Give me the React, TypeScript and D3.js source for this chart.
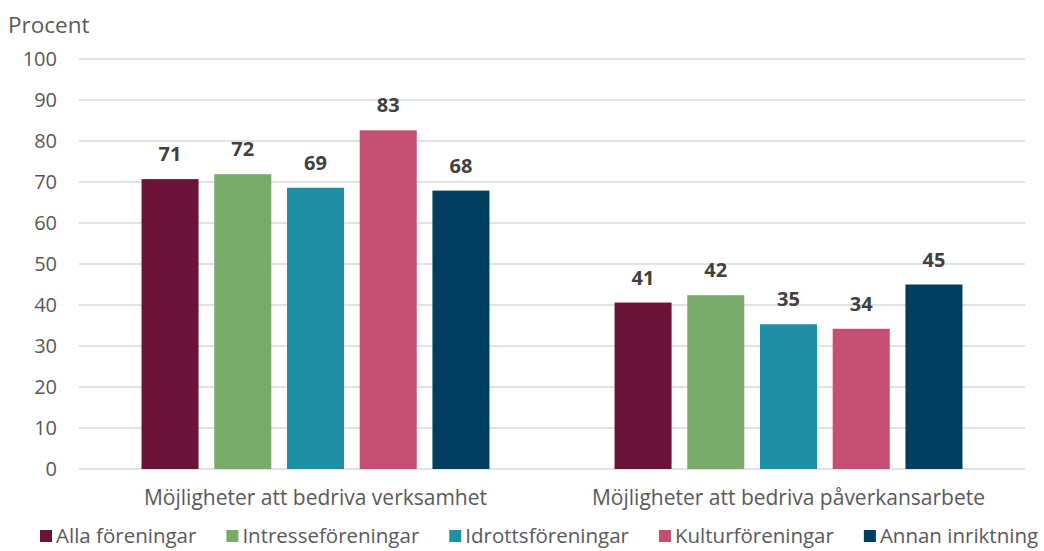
import React, { useEffect, useRef } from "react";
import * as d3 from "d3";

const categories = ["Möjligheter att bedriva verksamhet", "Möjligheter att bedriva påverkansarbete"];
const seriesNames = ["Alla föreningar", "Intresseföreningar", "Idrottsföreningar", "Kulturföreningar", "Annan inriktning"];
const seriesColors = ["#6b1438", "#79aa6a", "#1f8fa6", "#c54e73", "#013f61"];
const valuesVerksamhet = [70.7, 71.9, 68.6, 82.6, 67.9];
const valuesPaverkan = [40.6, 42.4, 35.3, 34.2, 45.0];
const seriesLabels = [
  ["71", "72", "69", "83", "68"],
  ["41", "42", "35", "34", "45"],
];
const yTicks = [0, 10, 20, 30, 40, 50, 60, 70, 80, 90, 100];
const yAxisTitle = "Procent";

const W = 1044;
const H = 551;
const FONT = "'Open Sans', sans-serif";

export default function App() {
  const ref = useRef<SVGSVGElement | null>(null);

  useEffect(() => {
    const svg = d3.select(ref.current);
    svg.selectAll("*").remove();

    const left = 79, right = 1025, top = 59, bottom = 469;
    const y = d3.scaleLinear().domain([0, 100]).range([bottom, top]);
    const x0 = d3.scaleBand<string>().domain(categories).range([left, right]).paddingInner(0).paddingOuter(0);
    const x1 = d3.scaleBand<string>().domain(seriesNames).range([0, x0.bandwidth()]).paddingInner(0.216).paddingOuter(0.86);

    const data = [valuesVerksamhet, valuesPaverkan];

    // grid
    svg.append("g").selectAll("line").data(yTicks).join("line")
      .attr("x1", left).attr("x2", right)
      .attr("y1", d => y(d)).attr("y2", d => y(d))
      .attr("stroke", "#d9d9d9").attr("stroke-width", 1.3);

    // y tick labels
    svg.append("g").selectAll("text").data(yTicks).join("text")
      .attr("x", 57).attr("y", d => y(d)).attr("dy", "0.36em")
      .attr("text-anchor", "end")
      .attr("font-family", FONT).attr("font-size", 20)
      .attr("fill", "#595959").text(d => String(d));

    svg.append("text").attr("x", 8).attr("y", 33)
      .attr("font-family", FONT).attr("font-size", 22.5)
      .attr("fill", "#595959").text(yAxisTitle);

    // bars
    categories.forEach((c, ci) => {
      const g = svg.append("g").attr("transform", `translate(${x0(c)},0)`);
      g.selectAll("rect").data(data[ci]).join("rect")
        .attr("x", (_, i) => x1(seriesNames[i])!)
        .attr("width", x1.bandwidth())
        .attr("y", d => y(d))
        .attr("height", d => bottom - y(d))
        .attr("fill", (_, i) => seriesColors[i]);
      g.selectAll("text").data(data[ci]).join("text")
        .attr("x", (_, i) => x1(seriesNames[i])! + x1.bandwidth() / 2)
        .attr("y", d => y(d) - 18)
        .attr("text-anchor", "middle")
        .attr("font-family", FONT).attr("font-size", 20).attr("font-weight", "bold")
        .attr("fill", "#404040").text((_, i) => seriesLabels[ci][i]);
      svg.append("text")
        .attr("x", x0(c)! + x0.bandwidth() / 2).attr("y", 505)
        .attr("text-anchor", "middle")
        .attr("font-family", FONT).attr("font-size", 21)
        .attr("fill", "#595959").text(c);
    });

    // legend
    const lg = svg.append("g");
    let lx = 40;
    const ly = 536;
    seriesNames.forEach((s, i) => {
      lg.append("rect").attr("x", lx).attr("y", ly - 6).attr("width", 12).attr("height", 12).attr("fill", seriesColors[i]);
      const t = lg.append("text").attr("x", lx + 16).attr("y", ly).attr("dy", "0.36em")
        .attr("font-family", FONT).attr("font-size", 20.5)
        .attr("fill", "#595959").text(s);
      const w = (t.node() as SVGTextElement).getComputedTextLength();
      lx += 16 + w + 30;
    });
  }, []);

  return (
    <svg ref={ref} width={W} height={H} style={{ display: "block", position: "absolute", left: 0, top: 0, background: "#fff" }} />
  );
}
